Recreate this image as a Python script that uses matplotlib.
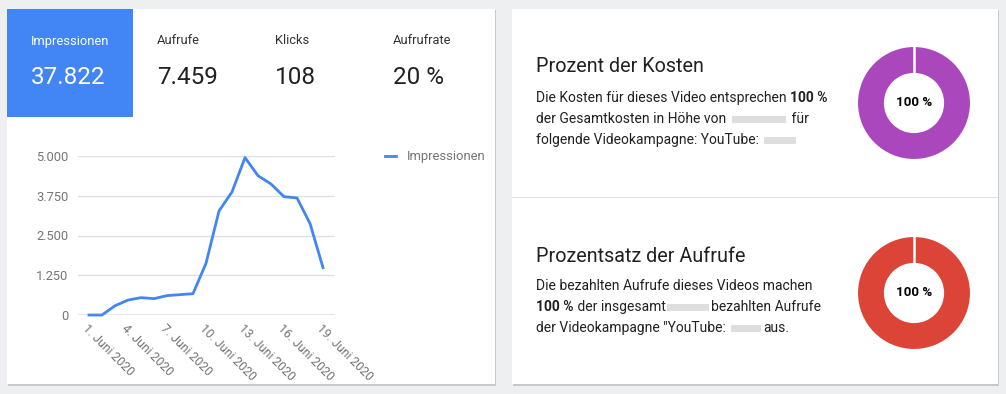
import matplotlib.pyplot as plt
from matplotlib.patches import Rectangle

plt.rcParams['font.family'] = ['Roboto', 'DejaVu Sans']

W, H = 1006, 394

# data
days = list(range(1, 20))
impressions = [0, 0, 290, 470, 545, 515, 610, 640, 670, 1625, 3270, 3870,
               4950, 4380, 4120, 3720, 3680, 2880, 1490]
tick_days = [1, 4, 7, 10, 13, 16, 19]
tick_labels = [str(d) + ". Juni 2020" for d in tick_days]
y_ticks = [0, 1250, 2500, 3750, 5000]
y_tick_labels = ["0", "1.250", "2.500", "3.750", "5.000"]

stat_names = ["Impressionen", "Aufrufe", "Klicks", "Aufrufrate"]
stat_values = ["37.822", "7.459", "108", "20 %"]
stat_x = [31, 157, 275, 393]

cost_share = [100]
view_share = [100]

BLUE = '#4285f4'
PURPLE = '#ab47bc'
RED = '#db4437'
GRAY_TXT = '#757575'
DARK = '#212121'


def fx(x):
    return x / W


def fy(y):
    return 1 - y / H


def box(x0, y0, x1, y1, **kw):
    fig.patches.append(Rectangle((fx(x0), fy(y1)), fx(x1) - fx(x0), fy(y0) - fy(y1),
                                 transform=fig.transFigure, figure=fig, **kw))


def rich_line(x, y, parts, size=10):
    # parts: list of (text, weight) or (None, width_px) for a blurred gap
    renderer = fig.canvas.get_renderer()
    for txt, w in parts:
        if txt is None:
            box(x + 2, y - 3, x + w - 2, y + 4, color='#d6d6d6', lw=0, alpha=0.8)
            x += w
            continue
        t = fig.text(fx(x), fy(y), txt, fontsize=size, fontweight=w, color=DARK,
                     ha='left', va='center')
        bb = t.get_window_extent(renderer)
        x += bb.width


fig = plt.figure(figsize=(W / 100, H / 100), dpi=100)
fig.patch.set_facecolor('#eeeff1')

# cards with a light shadow
for (x0, y0, x1, y1) in [(7, 9, 495, 384), (512, 9, 998, 384)]:
    box(x0 + 1, y0 + 1, x1 + 1, y1 + 2, color='#c9c9c9', lw=0)
    box(x0, y0, x1, y1, color='white', lw=0)
box(512, 197, 998, 198, color='#e0e0e0', lw=0)

# stats header
box(7, 9, 133, 117, color=BLUE, lw=0)
for i in range(len(stat_names)):
    c = 'white' if i == 0 else '#333333'
    fig.text(fx(stat_x[i]), fy(41), stat_names[i], fontsize=9.3, color=c, ha='left', va='center')
    fig.text(fx(stat_x[i]), fy(78), stat_values[i], fontsize=17.5,
             color='white' if i == 0 else DARK, ha='left', va='center')

# line chart
ax = fig.add_axes([fx(78), fy(315), fx(335) - fx(78), fy(156) - fy(315)])
ax.set_zorder(3)
ax.plot(days, impressions, color=BLUE, lw=2, clip_on=False, label='Impressionen')
ax.set_xlim(1 - 11 / 13, 19 + 12 / 13)
ax.set_ylim(0, 5000)
ax.set_yticks(y_ticks)
ax.set_yticklabels(y_tick_labels)
ax.set_xticks(tick_days)
ax.set_xticklabels(tick_labels, rotation=-45, ha='left', va='top', rotation_mode='anchor')
ax.tick_params(length=0, colors=GRAY_TXT, labelsize=9.3)
ax.tick_params(axis='x', labelsize=8.8, pad=5)
ax.tick_params(axis='y', pad=7)
for s in ax.spines.values():
    s.set_visible(False)
ax.grid(axis='y', color='#e0e0e0', lw=1)
ax.axhline(0, color='#9e9e9e', lw=1)
ax.set_facecolor('none')

# legend
fig.lines.append(plt.Line2D([fx(385), fx(396)], [fy(156), fy(156)], color=BLUE, lw=2,
                            transform=fig.transFigure))
fig.text(fx(407), fy(156), 'Impressionen', fontsize=9.4, color=GRAY_TXT, ha='left', va='center')

# right panel texts
fig.text(fx(536), fy(67), 'Prozent der Kosten', fontsize=14.2, color=DARK, ha='left', va='center')
fig.canvas.draw()
rich_line(536, 98, [('Die Kosten für dieses Video entsprechen ', 'normal'), ('100 %', 'bold')])
rich_line(536, 119, [('der Gesamtkosten in Höhe von ', 'normal'), (None, 58), (' für', 'normal')])
rich_line(536, 140, [('folgende Videokampagne: YouTube: ', 'normal'), (None, 36)])

fig.text(fx(536), fy(256), 'Prozentsatz der Aufrufe', fontsize=14.2, color=DARK, ha='left', va='center')
rich_line(536, 286, [('Die bezahlten Aufrufe dieses Videos machen', 'normal')])
rich_line(536, 307, [('100 %', 'bold'), (' der insgesamt', 'normal'), (None, 46), ('bezahlten Aufrufe', 'normal')])
rich_line(536, 328, [('der Videokampagne "YouTube: ', 'normal'), (None, 34), ('aus.', 'normal')])

# donuts
for cy, vals, col in [(103, cost_share, PURPLE), (293, view_share, RED)]:
    dax = fig.add_axes([fx(857), fy(cy + 57), fx(114), fy(0) - fy(114)])
    dax.set_zorder(3)
    dax.pie(vals, colors=[col], startangle=90, counterclock=False,
            wedgeprops=dict(width=0.49, edgecolor='white', linewidth=1.5))
    dax.plot([0, 0], [0.5, 1.02], color='white', lw=1.8)  # slice seam at the top
    dax.set_xlim(-1, 1)
    dax.set_ylim(-1, 1)
    dax.set_aspect('equal')
    dax.axis('off')
    dax.text(0, 0, str(vals[0]) + ' %', fontsize=9.6, fontweight='bold', color='black',
             ha='center', va='center')

fig.savefig('out.png', dpi=100, facecolor=fig.get_facecolor())
